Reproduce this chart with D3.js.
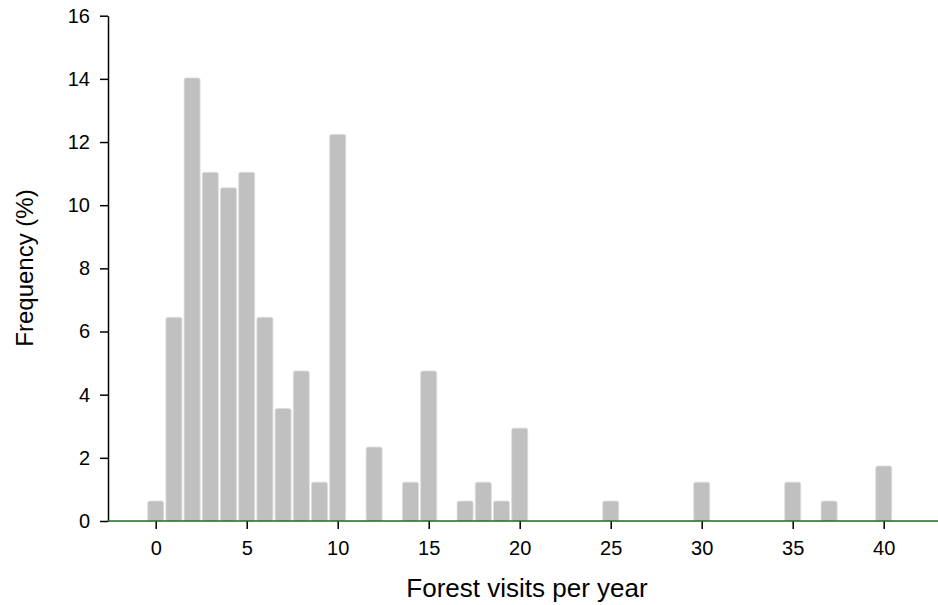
<!DOCTYPE html>
<html>
<head>
<meta charset="utf-8">
<script src="https://cdn.jsdelivr.net/npm/d3@7"></script>
<style>
  body { margin: 0; background: #fff; }
  text { font-family: "Liberation Sans", Arial, sans-serif; fill: #000; }
</style>
</head>
<body>
<script>
// Frequency (%) of forest visits per year
var visits = [0, 1, 2, 3, 4, 5, 6, 7, 8, 9, 10, 12, 14, 15, 17, 18, 19, 20, 25, 30, 35, 37, 40];
var freq = [0.63, 6.45, 14.03, 11.04, 10.55, 11.04, 6.45, 3.56, 4.75, 1.23, 12.24, 2.34, 1.23, 4.75, 0.63, 1.23, 0.63, 2.94, 0.63, 1.23, 1.23, 0.63, 1.74];
var xTicks = [0, 5, 10, 15, 20, 25, 30, 35, 40];
var yTicks = [0, 2, 4, 6, 8, 10, 12, 14, 16];

var width = 938, height = 605;
var svg = d3.select("body").append("svg").attr("width", width).attr("height", height);

// axis origin at x=108, 0 on x scale at 155.7
var x = d3.scaleLinear().domain([0, 40]).range([155.7, 883.7]);
var y = d3.scaleLinear().domain([0, 16]).range([521, 15.7]);
var barW = x(1) - x(0) - 2.2;

// bars
svg.selectAll(".bar")
    .data(visits)
    .enter().append("rect")
    .attr("class", "bar")
    .attr("x", function(d) { return x(d) - barW / 2; })
    .attr("y", function(d, i) { return y(freq[i]); })
    .attr("width", barW)
    .attr("height", function(d, i) { return y(0) - y(freq[i]); })
    .attr("rx", 2)
    .style("fill", "#c0c0c0")
    .style("stroke", "#dcdcdc")
    .style("stroke-width", 0.8);

// y axis
var yAxis = svg.append("g").attr("transform", "translate(108,0)")
    .call(d3.axisLeft(y).tickValues(yTicks).tickSize(8).tickSizeOuter(0).tickPadding(10));
yAxis.select(".domain").style("stroke", "#000").style("stroke-width", 1.5);
yAxis.selectAll(".tick line").style("stroke", "#000").style("stroke-width", 1.5);
yAxis.selectAll("text").style("font-size", "20px").style("font-family", "Liberation Sans, Arial, sans-serif");

// x axis
var xAxis = svg.append("g").attr("transform", "translate(0,521)")
    .call(d3.axisBottom(x).tickValues(xTicks).tickSize(8).tickSizeOuter(0).tickPadding(12));
xAxis.select(".domain").remove();
xAxis.selectAll(".tick line").style("stroke", "#000").style("stroke-width", 1.5);
xAxis.selectAll("text").style("font-size", "20px").style("font-family", "Liberation Sans, Arial, sans-serif");

// green baseline
svg.append("line")
    .attr("x1", 108).attr("x2", width)
    .attr("y1", y(0)).attr("y2", y(0))
    .style("stroke", "#1f6b1f")
    .style("stroke-width", 1.5);

// axis titles
svg.append("text")
    .attr("x", 527).attr("y", 597)
    .attr("text-anchor", "middle")
    .style("font-size", "26px")
    .text("Forest visits per year");

svg.append("text")
    .attr("transform", "translate(33,268) rotate(-90)")
    .attr("text-anchor", "middle")
    .style("font-size", "24px")
    .text("Frequency (%)");
</script>
</body>
</html>
